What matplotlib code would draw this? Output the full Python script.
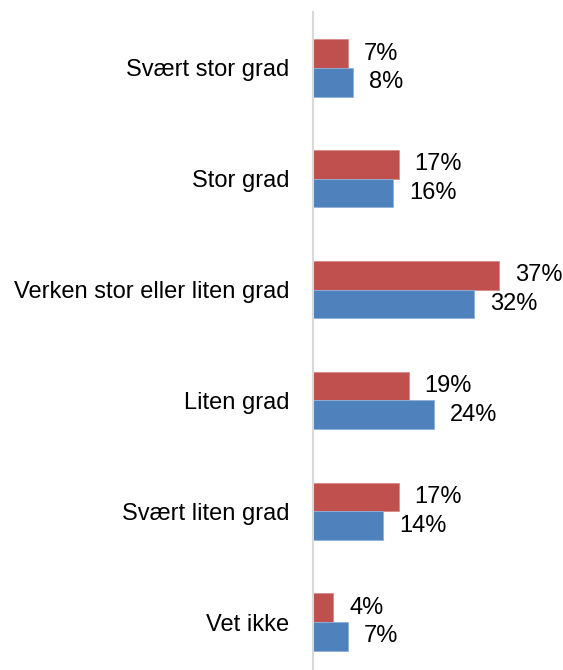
import matplotlib.pyplot as plt
import numpy as np

plt.rcParams['font.family'] = ['Liberation Sans', 'DejaVu Sans']

kategorier = ['Svært stor grad', 'Stor grad', 'Verken stor eller liten grad',
              'Liten grad', 'Svært liten grad', 'Vet ikke']
serie_rod = [7, 17, 37, 19, 17, 4]
serie_bla = [8, 16, 32, 24, 14, 7]

rod = '#C0504D'
bla = '#4F81BD'

fig = plt.figure(figsize=(5.63, 6.70), dpi=100)
ax = fig.add_axes([313 / 563, 0, 250 / 563, 658 / 670])

y = np.arange(len(kategorier))
h = 0.258
ax.barh(y - h / 2, serie_rod, height=h, color=rod, edgecolor='#D98A88', linewidth=0.6)
ax.barh(y + h / 2, serie_bla, height=h, color=bla, edgecolor='#8FB0D8', linewidth=0.6)

for i, v in enumerate(serie_rod):
    ax.annotate(f'{v}%', (v, i - h / 2), xytext=(11.5, 0), textcoords='offset points',
                va='center', ha='left', fontsize=17)
for i, v in enumerate(serie_bla):
    ax.annotate(f'{v}%', (v, i + h / 2), xytext=(11.5, 0), textcoords='offset points',
                va='center', ha='left', fontsize=17)

ax.set_xlim(0, 49.7)
ax.set_ylim(5.433, -0.505)
ax.set_yticks(y)
ax.set_yticklabels(kategorier, fontsize=17)
ax.tick_params(axis='y', length=0, pad=17)
ax.set_xticks([])
for s in ['top', 'right', 'bottom']:
    ax.spines[s].set_visible(False)
ax.spines['left'].set_color('#D9D9D9')
ax.spines['left'].set_linewidth(1.5)

plt.savefig('out.png', dpi=100)
plt.close()
